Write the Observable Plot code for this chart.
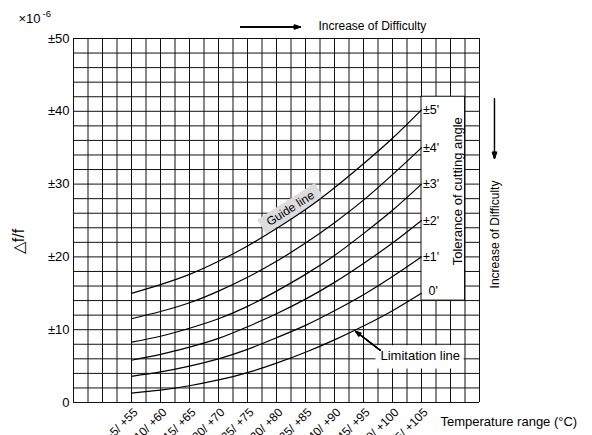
<!DOCTYPE html>
<html>
<head>
<meta charset="utf-8">
<script src="https://cdn.jsdelivr.net/npm/d3@7"></script>
<script src="https://cdn.jsdelivr.net/npm/@observablehq/plot@0.6"></script>
<style>
  html, body { margin: 0; padding: 0; background: #fff; }
  svg { display: block; }
</style>
</head>
<body>
<div id="chart"></div>
<script>
// Total temperature span (°C) for each operating range, and its tick label
const ranges = [60, 70, 80, 90, 100, 110, 120, 130, 140, 150, 160];
const rangeLabels = ["−5/ +55", "−10/ +60", "−15/ +65", "−20/ +70", "−25/ +75", "−30/ +80",
                     "−35/ +85", "−40/ +90", "−45/ +95", "−50/ +100", "−55/ +105"];

// Frequency tolerance (×10⁻⁶) per cutting-angle tolerance
const tolNames = ["±5'", "±4'", "±3'", "±2'", "±1'", "0'"];
const tol5 = [15.0, 16.2, 17.6, 19.4, 21.5, 23.9, 26.5, 29.5, 32.8, 36.3, 40.2];
const tol4 = [11.5, 12.5, 13.7, 15.3, 17.2, 19.4, 21.9, 24.7, 27.8, 31.3, 35.0];
const tol3 = [ 8.3,  9.1, 10.2, 11.5, 13.2, 15.3, 17.6, 20.2, 23.2, 26.4, 30.0];
const tol2 = [ 5.8,  6.6,  7.6,  8.8, 10.4, 12.2, 14.2, 16.5, 19.1, 21.9, 25.0];
const tol1 = [ 3.6,  4.2,  5.0,  6.0,  7.3,  8.9, 10.6, 12.6, 14.8, 17.3, 20.0];
const tol0 = [ 1.3,  1.7,  2.3,  3.1,  4.1,  5.4,  6.9,  8.6, 10.5, 12.6, 15.0];

// Y axis ticks
const yTicks = [0, 10, 20, 30, 40, 50];
const yTickLabels = ["0", "±10", "±20", "±30", "±40", "±50"];

// ---- build tables for the library ----
const series = [tol5, tol4, tol3, tol2, tol1, tol0];
const table = series.flatMap((vals, i) =>
  vals.map((v, j) => ({range: ranges[j], value: v, tol: tolNames[i]})));
const ends = series.map((vals, i) =>
  ({range: ranges[ranges.length - 1], value: vals[vals.length - 1], tol: tolNames[i]}));
const endsPM = ends.filter(d => d.tol !== "0'");
const endsZero = ends.filter(d => d.tol === "0'");

const gridX = d3.range(40, 181, 5);
const gridY = d3.range(0, 51, 2);
const font = "'Liberation Sans', Arial, Helvetica, sans-serif";
const gridColor = "#111";

// filled-looking arrow heads: stack several heads of decreasing angle
const headAngles = [40, 32, 24, 16, 8];
function filledArrow(x1, y1, x2, y2, len) {
  return headAngles.map(a => Plot.arrow([0], {x1, y1, x2, y2, stroke: "black", strokeWidth: 1.1,
                                              headLength: len, headAngle: a}));
}

const chart = Plot.plot({
  width: 592,
  height: 435,
  marginLeft: 73,
  marginRight: 113,
  marginTop: 38,
  marginBottom: 33,
  x: {domain: [40, 180], axis: null},
  y: {domain: [0, 50], axis: null},
  style: {fontFamily: font, fontSize: "12px", background: "white", color: "black", overflow: "visible"},
  marks: [
    // grid
    Plot.ruleY(gridY, {stroke: gridColor, strokeWidth: 1}),
    Plot.ruleX(gridX, {stroke: gridColor, strokeWidth: 1}),
    // white panel behind curve labels
    Plot.rect([0], {x1: 160, x2: 175, y1: 14, y2: 42, fill: "white", stroke: gridColor, strokeWidth: 1}),
    // white panel behind "Limitation line"
    Plot.rect([0], {x1: 144.3, x2: 174.7, y1: 4.6, y2: 7.8, fill: "white"}),
    // gray band behind "Guide line"
    Plot.link([0], {x1: 104.9, y1: 24.13, x2: 124.7, y2: 29.16, stroke: "#dcdcdc",
                    strokeWidth: 17, strokeLinecap: "butt"}),
    Plot.text(["Guide line"], {x: 114.8, y: 26.65, text: d => d, rotate: -32.5, fontSize: 12,
                               textAnchor: "middle", lineAnchor: "middle"}),
    // curves
    Plot.line(table, {x: "range", y: "value", z: "tol", curve: "natural",
                      stroke: "black", strokeWidth: 1.2}),
    // curve labels
    Plot.text(endsPM, {x: "range", y: "value", text: "tol", textAnchor: "start", dx: 1.5, fontSize: 12.5}),
    Plot.text(endsZero, {x: "range", y: "value", text: "tol", textAnchor: "start", dx: 7, dy: -2, fontSize: 12.5}),
    // x tick labels (rotated)
    Plot.text(rangeLabels, {x: ranges, y: 0, text: d => d, rotate: -45, textAnchor: "end",
                            lineAnchor: "top", dx: 1, dy: 4.5, fontSize: 12}),
    // y tick labels
    Plot.text(yTickLabels, {x: 40, y: yTicks, text: d => d, textAnchor: "end", lineAnchor: "middle",
                            dx: -4, fontSize: 13}),
    // axis titles
    Plot.text(["Temperature range (°C)"], {frameAnchor: "bottom-right", text: d => d,
              textAnchor: "start", lineAnchor: "middle", dx: -39, dy: 19.5, fontSize: 13}),
    Plot.text(["△f/f"], {frameAnchor: "left", text: d => d, rotate: -90, textAnchor: "middle",
              lineAnchor: "middle", dx: -55, dy: 21, fontSize: 16}),
    Plot.text(["×10"], {frameAnchor: "top-left", text: d => d, textAnchor: "start", lineAnchor: "middle",
              dx: -55, dy: -20, fontSize: 13}),
    Plot.text(["-6"], {frameAnchor: "top-left", text: d => d, textAnchor: "start", lineAnchor: "middle",
              dx: -31, dy: -25, fontSize: 9.5}),
    // difficulty arrows
    ...filledArrow(97.6, 51.58, 118.3, 51.58, 9),
    Plot.text(["Increase of Difficulty"], {frameAnchor: "top-left", text: d => d, textAnchor: "start",
              lineAnchor: "middle", dx: 245, dy: -12, fontSize: 12}),
    ...filledArrow(185.17, 41.76, 185.17, 33.52, 9),
    Plot.text(["Increase of Difficulty"], {frameAnchor: "right", text: d => d, rotate: -90,
              textAnchor: "middle", lineAnchor: "middle", dx: 16, dy: 14, fontSize: 12}),
    Plot.text(["Tolerance of cutting angle"], {x: 172.59, y: 29.02, text: d => d, rotate: -90,
              textAnchor: "middle", lineAnchor: "middle", fontSize: 13}),
    // limitation line annotation
    ...filledArrow(145.86, 7.14, 137.24, 9.79, 8),
    Plot.text(["Limitation line"], {x: 145.86, y: 6.35, text: d => d, textAnchor: "start",
              lineAnchor: "middle", fontSize: 13})
  ]
});

document.getElementById("chart").appendChild(chart);
</script>
</body>
</html>
